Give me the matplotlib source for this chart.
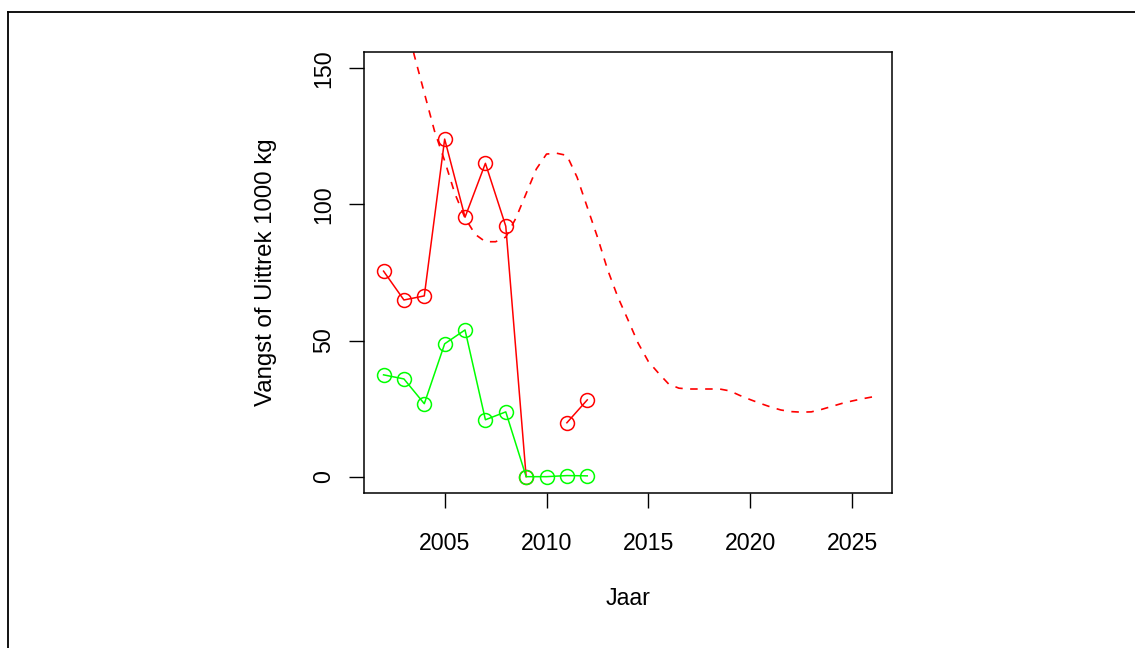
import numpy as np
import matplotlib.pyplot as plt
from matplotlib.lines import Line2D

plt.rcParams['font.family'] = ['Liberation Sans', 'DejaVu Sans']

# observed years
years = [2002, 2003, 2004, 2005, 2006, 2007, 2008, 2009, 2010, 2011, 2012]
# red series (vangst), 2010 missing
vangst = [75.5, 64.9, 66.4, 124.0, 95.3, 115.1, 92.0, 0.0, np.nan, 19.8, 28.2]
# green series (uittrek)
uittrek = [37.4, 35.9, 26.8, 48.8, 53.9, 20.9, 23.8, 0.0, 0.0, 0.4, 0.3]

# dashed red curve, read every half year
curve_years = [2003.0, 2003.5, 2004.0, 2004.5, 2005.0, 2005.5, 2006.0, 2006.5,
               2007.0, 2007.5, 2008.0, 2008.5, 2009.0, 2009.5, 2010.0, 2010.5,
               2011.0, 2011.5, 2012.0, 2012.5, 2013.0, 2013.5, 2014.0, 2014.5,
               2015.0, 2015.5, 2016.0, 2016.5, 2017.0, 2017.5, 2018.0, 2018.5,
               2019.0, 2019.5, 2020.0, 2020.5, 2021.0, 2021.5, 2022.0, 2022.5,
               2023.0, 2023.5, 2024.0, 2024.5, 2025.0, 2025.5, 2026.0]
curve_vals = [172, 155, 141, 127, 116, 104, 95, 89,
              86.3, 86.3, 88, 95, 104, 113, 118.5, 118.8,
              118, 110, 99, 88, 76, 66, 57.6, 49,
              42.3, 38, 34, 32.5, 32.2, 32.2, 32.2, 32.2,
              31.5, 29.8, 28.3, 26.9, 25.6, 24.5, 23.9, 23.7,
              23.8, 24.7, 25.8, 26.9, 27.8, 28.6, 29.3]

xticks = [2005, 2010, 2015, 2020, 2025]
yticks = [0, 50, 100, 150]

fig = plt.figure(figsize=(11.35, 6.48), dpi=100)
ax = fig.add_axes([0.3207, 0.2392, 0.4652, 0.6806])

ax.plot(curve_years, curve_vals, color='#ff0000', lw=1.2, dashes=(4.5, 4.5))
ax.plot(years, vangst, color='#ff0000', lw=1.1, marker='o', ms=10,
        mfc='none', mew=1.1)
ax.plot(years, uittrek, color='#00ff00', lw=1.1, marker='o', ms=10,
        mfc='none', mew=1.1)

ax.set_xlim(2001.04, 2026.96)
ax.set_ylim(-6, 156)
ax.set_xticks(xticks)
ax.set_yticks(yticks)
ax.tick_params(length=11, width=1, labelsize=16.7)
ax.tick_params(axis='x', pad=17)
ax.tick_params(axis='y', pad=10)
for lbl in ax.get_yticklabels():
    lbl.set_rotation(90)
    lbl.set_va('center')
for s in ax.spines.values():
    s.set_linewidth(1.1)

ax.set_xlabel('Jaar', fontsize=16.7, labelpad=23)
ax.set_ylabel('Vangst of Uittrek 1000 kg', fontsize=17.3, labelpad=25)

# frame of the surrounding box
fig.add_artist(Line2D([8 / 1135, 1], [1 - 12 / 648, 1 - 12 / 648],
                      color='black', lw=1.3))
fig.add_artist(Line2D([8 / 1135, 8 / 1135], [0, 1 - 12 / 648],
                      color='black', lw=1.3))

fig.savefig('out.png', dpi=100)
